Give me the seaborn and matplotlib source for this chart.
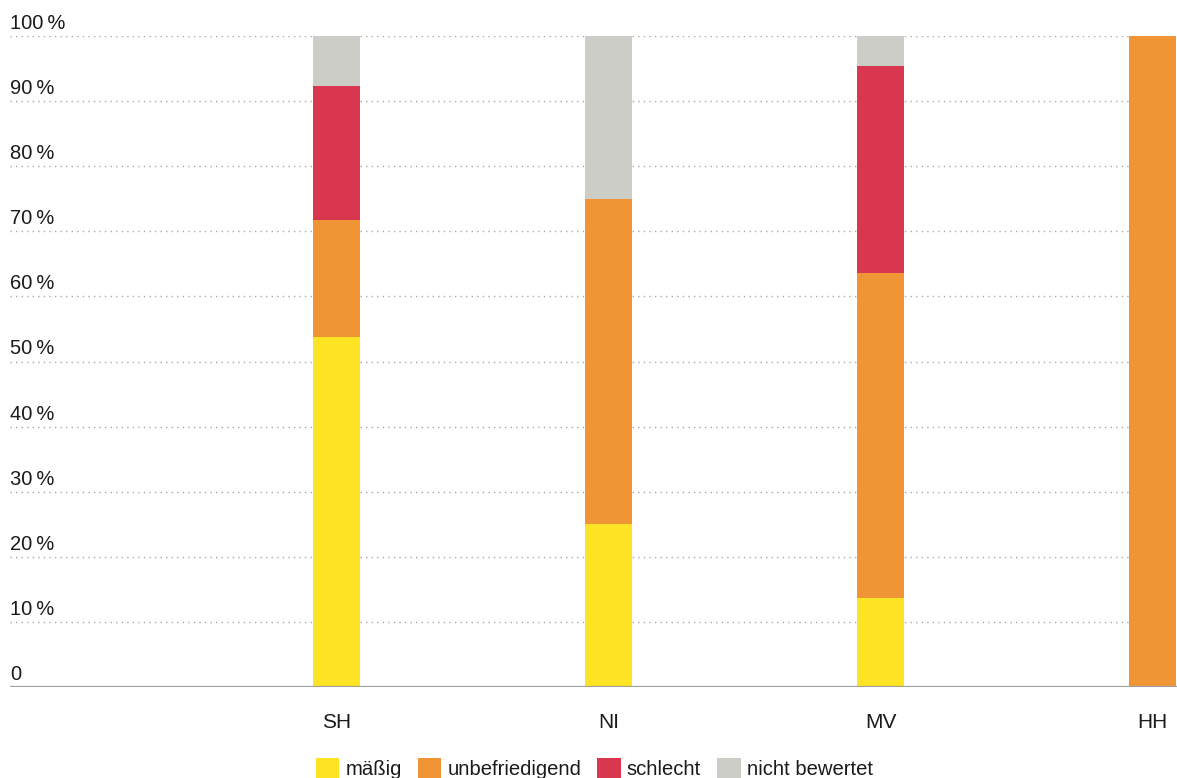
import matplotlib
matplotlib.use("Agg")
import matplotlib.pyplot as plt
import matplotlib.transforms as mtransforms
from matplotlib.patches import Patch
import numpy as np
import pandas as pd
import seaborn as sns

# Anteil der Wasserkörper je Bewertungsklasse (in %)
regions = ["SH", "NI", "MV", "HH"]
classes = ["mäßig", "unbefriedigend", "schlecht", "nicht bewertet"]
maessig = [53.8, 25.0, 13.6, 0.0]
unbefriedigend = [17.9, 50.0, 50.0, 100.0]
schlecht = [20.6, 0.0, 31.8, 0.0]
nicht_bewertet = [7.7, 25.0, 4.6, 0.0]
colors = ["#FFE325", "#F09535", "#D9364F", "#CDCDC8"]
y_ticks = [0, 10, 20, 30, 40, 50, 60, 70, 80, 90, 100]
y_tick_labels = ["0"] + [f"{v}\u2009%" for v in y_ticks[1:]]

sns.set_theme(style="white")
plt.rcParams["font.family"] = ["Liberation Sans", "DejaVu Sans"]

W, H = 1177, 778
fig = plt.figure(figsize=(W / 100, H / 100), dpi=100)
ax = fig.add_axes([10 / W, (H - 687) / H, (W - 10) / W, (687 - 36) / H])

df = pd.DataFrame(
    {
        "Region": regions,
        classes[0]: maessig,
        classes[1]: unbefriedigend,
        classes[2]: schlecht,
        classes[3]: nicht_bewertet,
    }
)
cum = df[classes].cumsum(axis=1)

# Stacked bars: draw the cumulative totals from the top segment downwards
for cls, col in reversed(list(zip(classes, colors))):
    sns.barplot(
        x=df["Region"], y=cum[cls], order=regions, color=col,
        width=0.17, errorbar=None, saturation=1, linewidth=0, ax=ax, zorder=3,
    )

ax.set_xlim(-1.2, 3.09)
ax.set_ylim(0, 100)
ax.set_xlabel("")
ax.set_ylabel("")

# Dotted horizontal grid
for v in y_ticks[1:]:
    ax.axhline(v, color="#A8A8A8", lw=1.0, ls=(0, (1, 3)), zorder=1)
ax.axhline(0, color="#A0A0A0", lw=1.6, zorder=4)

for s in ax.spines.values():
    s.set_visible(False)
ax.set_yticks([])
ax.tick_params(axis="x", length=0, pad=19, labelsize=15, labelcolor="#1a1a1a")

# Y labels sit above their gridline at the left edge
trans = mtransforms.blended_transform_factory(ax.transAxes, ax.transData)
off = mtransforms.ScaledTranslation(0, 3 / 100, fig.dpi_scale_trans)
for v, lab in zip(y_ticks, y_tick_labels):
    ax.text(0, v, lab, transform=trans + off, ha="left", va="bottom",
            fontsize=14.5, color="#1a1a1a")

handles = [Patch(facecolor=c, edgecolor="none") for c in colors]
fig.legend(
    handles, classes, loc="lower center", bbox_to_anchor=(0.505, -0.014),
    ncol=4, frameon=False, fontsize=14.6, handlelength=1.15, handleheight=1.15,
    handletextpad=0.3, columnspacing=0.8, borderpad=0, labelcolor="#1a1a1a",
)

fig.savefig("out.png", dpi=100, facecolor="white")
